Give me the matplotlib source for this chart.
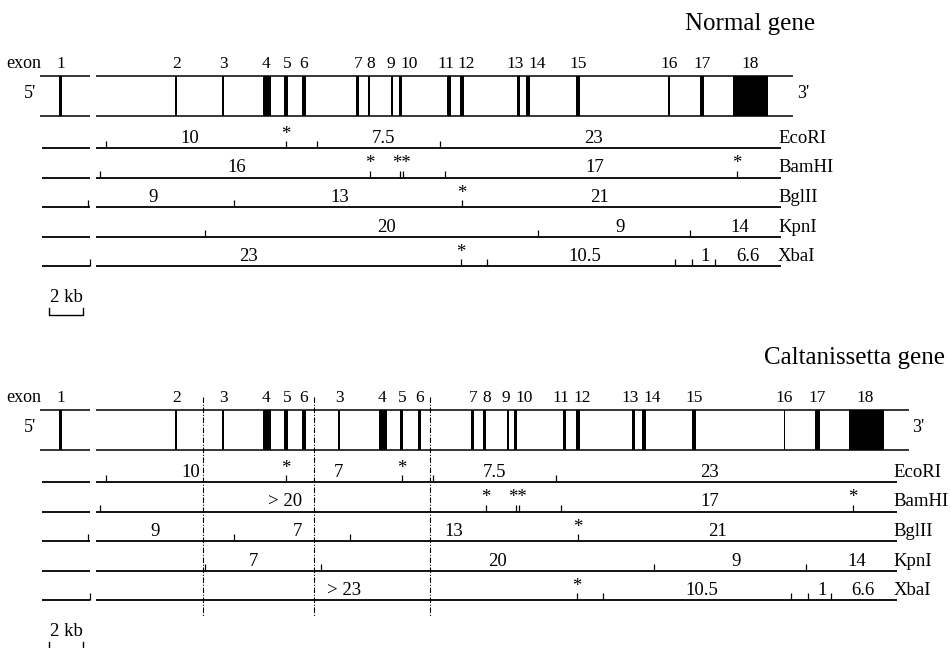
import matplotlib.pyplot as plt

plt.rcParams["font.family"] = "Liberation Serif"

# Exon positions along the normal gene (kb from the left end of the drawing)
exon_names = [str(i) for i in range(1, 19)]
exon_kb = [1.18, 8.00, 10.76, 13.35, 14.47, 15.53, 18.65, 19.35, 20.71, 21.18,
           24.06, 24.82, 28.12, 28.71, 31.65, 37.00, 38.94, 41.79]
exon_len = [0.18, 0.12, 0.12, 0.47, 0.18, 0.18, 0.18, 0.15, 0.12, 0.18,
            0.18, 0.24, 0.18, 0.24, 0.24, 0.07, 0.29, 2.06]
exon_label_kb = [1.24, 8.06, 10.82, 13.29, 14.53, 15.53, 18.70, 19.45, 20.62, 21.70,
                 23.85, 25.10, 27.94, 29.24, 31.65, 37.00, 38.94, 41.76]

# gene and map extents (kb)
gene_pieces = [(0.0, 2.94), (3.29, 44.29)]
map_pieces = [(0.12, 2.94), (3.29, 43.59)]

# tandem duplication in the Caltanissetta gene
dup_start = 9.59
dup_end = 16.12
dup_len = 6.8

enzymes = ["EcoRI", "BamHI", "BglII", "KpnI", "XbaI"]

# restriction sites on the normal gene (kb)
sites = [
    [3.88, 14.47, 16.29, 23.53],
    [3.53, 19.41, 21.18, 21.35, 23.82, 41.00],
    [2.82, 11.41, 24.82],
    [9.71, 29.29, 38.24],
    [2.94, 24.76, 26.29, 37.35, 38.35, 39.71],
]
# polymorphic sites marked with asterisks
stars = [
    [(14.47, "*")],
    [(19.41, "*"), (21.26, "**"), (41.00, "*")],
    [(24.82, "*")],
    [],
    [(24.76, "*")],
]

# fragment sizes (kb) and where they are written
normal_frags = [
    [("10", 8.82), ("7.5", 20.18), ("23", 32.53)],
    [("16", 11.59), ("17", 32.65)],
    [("9", 6.65), ("13", 17.65), ("21", 32.94)],
    [("20", 20.41), ("9", 34.12), ("14", 41.18)],
    [("23", 12.24), ("10.5", 32.06), ("1", 39.12), ("6.6", 41.65)],
]
calt_frags = [
    [("10", 8.85), ("7", 17.53), ("7.5", 26.76), ("23", 39.41)],
    [("> 20", 14.41), ("17", 39.41)],
    [("9", 6.76), ("7", 15.12), ("13", 24.35), ("21", 39.88)],
    [("7", 12.53), ("20", 26.94), ("9", 40.94), ("14", 48.06)],
    [("> 23", 17.88), ("10.5", 38.94), ("1", 46.00), ("6.6", 48.41)],
]


def normal_pos(p):
    return [p]


def calt_pos(p):
    if p < dup_start:
        return [p]
    if p < dup_end:
        return [p, p + dup_len]
    return [p + dup_len]


def calt_end(p):
    return p + dup_len if p > dup_end else p


fig = plt.figure(figsize=(9.5, 6.48), dpi=100)
ax = fig.add_axes([0, 0, 1, 1])
ax.set_xlim(-40 / 17, 910 / 17)
ax.set_ylim(648, 0)
ax.axis("off")

fs = 13.5
panels = [
    (0, "Normal gene", 45.59, normal_pos, normal_frags, lambda p: p),
    (334, "Caltanissetta gene", 53.24, calt_pos, calt_frags, calt_end),
]

for dy, title, title_x, pos, frags, end in panels:
    box_top, box_bot = 76 + dy, 116 + dy
    ax.text(title_x, 30 + dy, title, ha="right", va="baseline", fontsize=18)

    # exon box
    for a, b in gene_pieces:
        ax.hlines([box_top, box_bot], a, end(b), color="black", lw=1.1)
    xs, ws = [], []
    for x, w in zip(exon_kb, exon_len):
        for xx in pos(x):
            xs.append(xx)
            ws.append(w)
    ax.bar(xs, box_bot - box_top, width=ws, bottom=box_top, color="black", linewidth=0)
    for name, x in zip(exon_names, exon_label_kb):
        for xx in pos(x):
            ax.text(xx, 68 + dy, name, ha="center", va="baseline", fontsize=12.5)
    ax.text(-2.0, 68 + dy, "exon", ha="left", va="baseline", fontsize=13)
    ax.text(-0.6, 98 + dy, "5'", ha="center", va="baseline", fontsize=13)
    ax.text(end(44.53), 98 + dy, "3'", ha="left", va="baseline", fontsize=13)

    # restriction maps
    for i, enz in enumerate(enzymes):
        y = 148 + 29.5 * i + dy
        for a, b in map_pieces:
            ax.hlines(y, a, end(b), color="black", lw=1.3)
        ticks = [xx for x in sites[i] for xx in pos(x)]
        ax.vlines(ticks, y - 7, y, color="black", lw=0.9)
        for x, s in stars[i]:
            for xx in pos(x):
                ax.text(xx, y - 9, s, ha="center", va="baseline", fontsize=fs)
        for s, x in frags[i]:
            ax.text(x, y - 5, s, ha="center", va="baseline", fontsize=fs)
        ax.text(end(43.41), y - 5, enz, ha="left", va="baseline", fontsize=fs)

    # scale bar
    ax.text(1.53, 302 + dy, "2 kb", ha="center", va="baseline", fontsize=fs)
    ax.plot([0.53, 0.53, 2.53, 2.53], [308 + dy, 315 + dy, 315 + dy, 308 + dy],
            color="black", lw=1.0)

# breakpoints of the duplication
ax.vlines([dup_start, dup_end, dup_end + dup_len], 397, 617, color="black",
          lw=0.8, linestyles=(0, (5, 1.5, 1, 1.5)))

fig.savefig("out.png", dpi=100)
